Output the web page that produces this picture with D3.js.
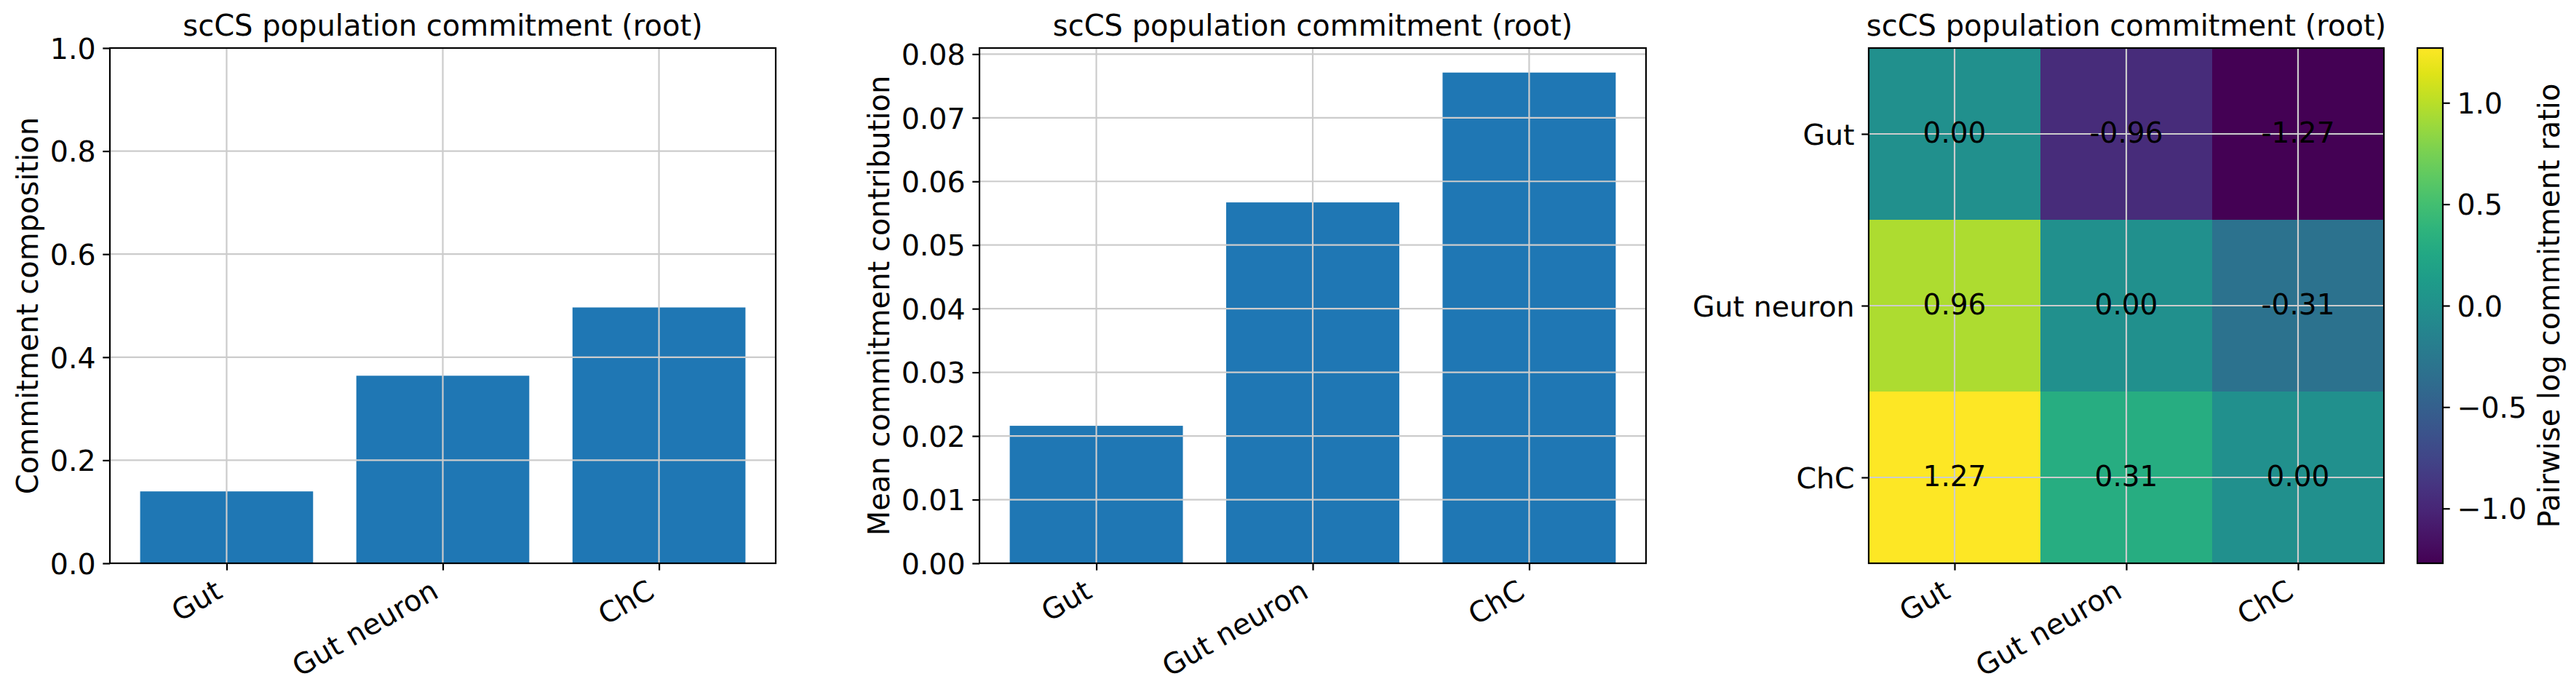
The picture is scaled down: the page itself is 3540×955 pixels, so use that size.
<!DOCTYPE html>
<html><head><meta charset="utf-8">
<script src="https://cdn.jsdelivr.net/npm/d3@7"></script>
<style>body{margin:0;background:#fff}</style>
</head><body>
<script>
// ---- data ----
const categories = ["Gut", "Gut neuron", "ChC"];
const composition = [0.1395, 0.364, 0.4965];
const meanContribution = [0.0216, 0.0567, 0.0771];
const logRatio = [
  [0.00, -0.96, -1.27],
  [0.96, 0.00, -0.31],
  [1.27, 0.31, 0.00]
];
const compTicks = [0, 0.2, 0.4, 0.6, 0.8, 1.0];
const contribTicks = [0, 0.01, 0.02, 0.03, 0.04, 0.05, 0.06, 0.07, 0.08];
const cbarTicks = [-1.0, -0.5, 0.0, 0.5, 1.0];
const titleText = "scCS population commitment (root)";
const ylabel1 = "Commitment composition";
const ylabel2 = "Mean commitment contribution";
const cbarLabel = "Pairwise log commitment ratio";

// ---- layout ----
const W = 3540, H = 955;
const FONT = "DejaVu Sans";
const FS_TICK = 39.5, FS_LAB = 40, FS_ANN = 39;
const TOP = 66, BOT = 774;
const LW = 2.2, TICKLEN = 9.7, TICKPAD = 9.7;
const GRID = "#cccccc";
const DESC = 0.208, ASC = 0.76;

const svg = d3.select("body").append("svg")
  .attr("width", W).attr("height", H)
  .style("font-family", FONT);
svg.append("rect").attr("width", W).attr("height", H).attr("fill", "#fff");

function styleAxis(g, fs) {
  g.select(".domain").remove();
  g.selectAll(".tick line").attr("stroke", "#000").attr("stroke-width", LW);
  g.selectAll(".tick text").attr("fill", "#000")
    .style("font-size", fs + "px").style("font-family", FONT);
  g.attr("font-size", null).attr("font-family", null);
}

function rotateXLabels(g, fs) {
  const px = -DESC * fs * 0.5;
  const py = TICKLEN + TICKPAD + 0.866 * ASC * fs;
  g.selectAll(".tick text")
    .attr("text-anchor", "end")
    .attr("dy", null)
    .attr("x", px).attr("y", py)
    .attr("transform", `rotate(-30,${px},${py})`);
}

function addTitle(cx) {
  svg.append("text").attr("x", cx).attr("y", 49)
    .attr("text-anchor", "middle").style("font-size", FS_LAB + "px")
    .attr("fill", "#000").text(titleText);
}

function addYLabel(axisG, x0, text, cy) {
  const bb = axisG.node().getBBox();
  const bx = x0 + bb.x - 8 - DESC * FS_LAB;
  svg.append("text").attr("transform", `translate(${bx},${cy}) rotate(-90)`)
    .attr("text-anchor", "middle").style("font-size", FS_LAB + "px")
    .attr("fill", "#000").text(text);
}

function barPanel(x0, x1, values, yTicks, yMax, fmt, ylabel) {
  const x = d3.scaleLinear().domain([-0.54, 2.54]).range([x0, x1]);
  const y = d3.scaleLinear().domain([0, yMax]).range([BOT, TOP]);
  const g = svg.append("g");
  g.selectAll("rect.bar").data(values).join("rect").attr("class", "bar")
    .attr("x", (d, i) => x(i - 0.4))
    .attr("width", (d, i) => x(i + 0.4) - x(i - 0.4))
    .attr("y", d => y(d)).attr("height", d => y(0) - y(d))
    .attr("fill", "#1f77b4");
  // grid
  g.selectAll("line.hg").data(yTicks).join("line").attr("class", "hg")
    .attr("x1", x0).attr("x2", x1).attr("y1", d => y(d)).attr("y2", d => y(d))
    .attr("stroke", GRID).attr("stroke-width", LW);
  g.selectAll("line.vg").data(categories).join("line").attr("class", "vg")
    .attr("x1", (d, i) => x(i)).attr("x2", (d, i) => x(i)).attr("y1", TOP).attr("y2", BOT)
    .attr("stroke", GRID).attr("stroke-width", LW);
  // axes
  const ya = svg.append("g").attr("transform", `translate(${x0},0)`)
    .call(d3.axisLeft(y).tickValues(yTicks).tickFormat(fmt).tickSize(TICKLEN).tickPadding(TICKPAD));
  styleAxis(ya, FS_TICK);
  ya.selectAll(".tick text").attr("dy", "0.36em");
  const xa = svg.append("g").attr("transform", `translate(0,${BOT})`)
    .call(d3.axisBottom(x).tickValues([0, 1, 2]).tickFormat(i => categories[i]).tickSize(TICKLEN).tickPadding(TICKPAD));
  styleAxis(xa, FS_TICK);
  rotateXLabels(xa, FS_TICK);
  // spines
  svg.append("rect").attr("x", x0).attr("y", TOP).attr("width", x1 - x0).attr("height", BOT - TOP)
    .attr("fill", "none").attr("stroke", "#000").attr("stroke-width", LW);
  addTitle((x0 + x1) / 2);
  addYLabel(ya, x0, ylabel, (TOP + BOT) / 2);
}

barPanel(151, 1066, composition, compTicks, 1.0, d3.format(".1f"), ylabel1);
barPanel(1346, 2262, meanContribution, contribTicks, 0.0771 * 1.05, d3.format(".2f"), ylabel2);

// ---- heatmap ----
(function () {
  const x0 = 2568, x1 = 3276;
  const vmax = 1.27;
  const x = d3.scaleLinear().domain([-0.5, 2.5]).range([x0, x1]);
  const y = d3.scaleLinear().domain([-0.5, 2.5]).range([TOP, BOT]);
  const color = d3.scaleSequential(d3.interpolateViridis).domain([-vmax, vmax]);
  const cells = [];
  logRatio.forEach((row, i) => row.forEach((v, j) => cells.push({ i, j, v })));
  const g = svg.append("g");
  g.selectAll("rect.cell").data(cells).join("rect").attr("class", "cell")
    .attr("x", d => x(d.j - 0.5)).attr("y", d => y(d.i - 0.5))
    .attr("width", x(0.5) - x(-0.5) + 0.5).attr("height", y(0.5) - y(-0.5) + 0.5)
    .attr("fill", d => color(d.v));
  // grid
  g.selectAll("line.vg").data([0, 1, 2]).join("line").attr("class", "vg")
    .attr("x1", d => x(d)).attr("x2", d => x(d)).attr("y1", TOP).attr("y2", BOT)
    .attr("stroke", GRID).attr("stroke-width", LW);
  g.selectAll("line.hg").data([0, 1, 2]).join("line").attr("class", "hg")
    .attr("y1", d => y(d)).attr("y2", d => y(d)).attr("x1", x0).attr("x2", x1)
    .attr("stroke", GRID).attr("stroke-width", LW);
  // annotations
  g.selectAll("text.ann").data(cells).join("text").attr("class", "ann")
    .attr("x", d => x(d.j)).attr("y", d => y(d.i)).attr("dy", "0.3em")
    .attr("text-anchor", "middle").style("font-size", FS_ANN + "px").attr("fill", "#000")
    .text(d => d.v.toFixed(2));
  // axes
  const ya = svg.append("g").attr("transform", `translate(${x0},0)`)
    .call(d3.axisLeft(y).tickValues([0, 1, 2]).tickFormat(i => categories[i]).tickSize(TICKLEN).tickPadding(TICKPAD));
  styleAxis(ya, FS_TICK);
  ya.selectAll(".tick text").attr("dy", "0.36em");
  const xa = svg.append("g").attr("transform", `translate(0,${BOT})`)
    .call(d3.axisBottom(x).tickValues([0, 1, 2]).tickFormat(i => categories[i]).tickSize(TICKLEN).tickPadding(TICKPAD));
  styleAxis(xa, FS_TICK);
  rotateXLabels(xa, FS_TICK);
  svg.append("rect").attr("x", x0).attr("y", TOP).attr("width", x1 - x0).attr("height", BOT - TOP)
    .attr("fill", "none").attr("stroke", "#000").attr("stroke-width", LW);
  addTitle((x0 + x1) / 2);

  // colorbar
  const c0 = 3322, c1 = 3357;
  const cy = d3.scaleLinear().domain([-vmax, vmax]).range([BOT, TOP]);
  const defs = svg.append("defs");
  const grad = defs.append("linearGradient").attr("id", "vir")
    .attr("x1", 0).attr("y1", 1).attr("x2", 0).attr("y2", 0);
  d3.range(0, 1.0001, 0.05).forEach(t => {
    grad.append("stop").attr("offset", t).attr("stop-color", d3.interpolateViridis(t));
  });
  svg.append("rect").attr("x", c0).attr("y", TOP).attr("width", c1 - c0).attr("height", BOT - TOP)
    .attr("fill", "url(#vir)");
  const ca = svg.append("g").attr("transform", `translate(${c1},0)`)
    .call(d3.axisRight(cy).tickValues(cbarTicks).tickFormat(d3.format(".1f")).tickSize(TICKLEN).tickPadding(TICKPAD));
  styleAxis(ca, FS_TICK);
  ca.selectAll(".tick text").attr("dy", "0.36em");
  svg.append("rect").attr("x", c0).attr("y", TOP).attr("width", c1 - c0).attr("height", BOT - TOP)
    .attr("fill", "none").attr("stroke", "#000").attr("stroke-width", LW);
  const bb = ca.node().getBBox();
  const lx = c1 + bb.x + bb.width + 14 + ASC * FS_LAB;
  svg.append("text").attr("transform", `translate(${lx},${(TOP + BOT) / 2}) rotate(-90)`)
    .attr("text-anchor", "middle").style("font-size", FS_LAB + "px").attr("fill", "#000")
    .text(cbarLabel);
})();
</script>
</body></html>
